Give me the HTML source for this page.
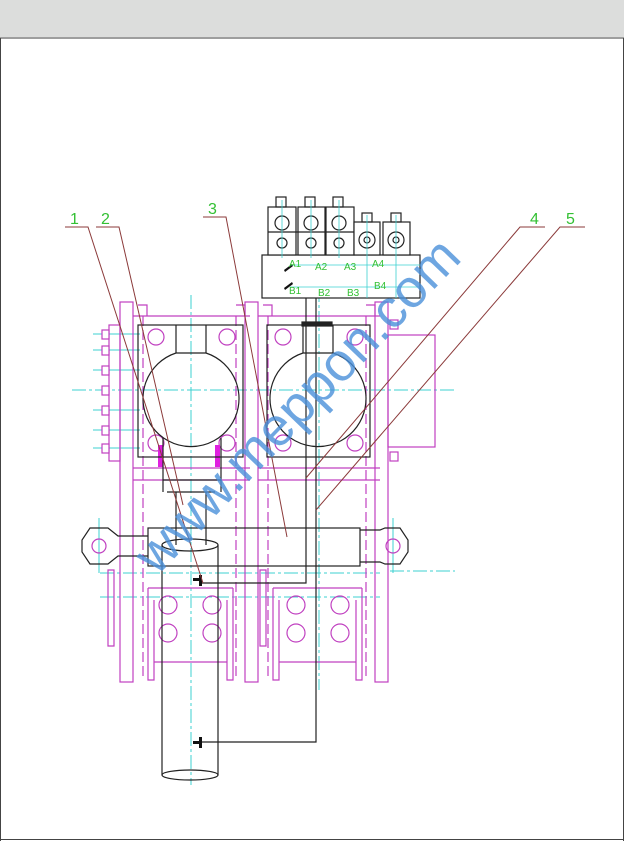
<!DOCTYPE html>
<html><head><meta charset="utf-8"><style>
html,body{margin:0;padding:0;background:#fff;}
svg{display:block;}
</style></head><body>
<svg width="624" height="841" viewBox="0 0 624 841" xmlns="http://www.w3.org/2000/svg" font-family="Liberation Sans, sans-serif">
<rect x="0" y="0" width="624" height="37" fill="#dcdddc"/>
<rect x="0" y="37" width="624" height="2" fill="#9e9e9e"/>
<line x1="0.5" y1="38" x2="0.5" y2="841" stroke="#444" stroke-width="1"/>
<line x1="623.5" y1="38" x2="623.5" y2="841" stroke="#444" stroke-width="1"/>
<line x1="0" y1="839.5" x2="624" y2="839.5" stroke="#444" stroke-width="1"/>

<g stroke="#3cd0d0" stroke-width="1" fill="none" stroke-dasharray="14 3 3 3">
<line x1="72" y1="390" x2="455" y2="390"/>
<line x1="191" y1="295" x2="191" y2="785"/>
<line x1="319" y1="288" x2="319" y2="690"/>
<line x1="100" y1="597" x2="380" y2="597"/>
<line x1="100" y1="573" x2="380" y2="573"/>
<line x1="390" y1="571" x2="455" y2="571"/>
</g>
<g stroke="#3cd0d0" stroke-width="1">
<line x1="93" y1="334" x2="140" y2="334"/><line x1="93" y1="350" x2="140" y2="350"/>
<line x1="93" y1="370" x2="140" y2="370"/><line x1="93" y1="410" x2="140" y2="410"/>
<line x1="93" y1="430" x2="140" y2="430"/><line x1="93" y1="448" x2="140" y2="448"/>
<line x1="99" y1="518" x2="99" y2="573"/><line x1="393" y1="518" x2="393" y2="573"/>
</g>

<g stroke="#c040c0" stroke-width="1.2" fill="none">
<rect x="120" y="302" width="13" height="380"/>
<rect x="109" y="325" width="11" height="136"/>
<g fill="#fff">
<rect x="102" y="330" width="7" height="9"/><rect x="102" y="346" width="7" height="9"/>
<rect x="102" y="366" width="7" height="9"/><rect x="102" y="386" width="7" height="9"/>
<rect x="102" y="406" width="7" height="9"/><rect x="102" y="426" width="7" height="9"/>
<rect x="102" y="444" width="7" height="9"/>
</g>
<path d="M133 316 H250 M138 305 h9 v11 M236 305 h9 v11"/>
<path d="M133 468 H250 M133 480 H250"/>
<rect x="245" y="302" width="13" height="380"/>
<path d="M258 316 H380 M263 305 h9 v11 M366 305 h9 v11"/>
<rect x="375" y="302" width="13" height="380"/>
<path d="M258 468 H380 M258 480 H380"/>
<rect x="388" y="335" width="47" height="112"/>
<rect x="390" y="320" width="8" height="9"/><rect x="390" y="452" width="8" height="9"/>
<path d="M143 316 V680 M236 316 V680 M268 316 V680 M366 316 V680" stroke-dasharray="10 4"/>
<path d="M148 588 H233 M148 588 V680 h6 V600 M233 588 V680 h-6 V600 M154 662 H227" />
<path d="M273 588 H362 M273 588 V680 h6 V600 M362 588 V680 h-6 V600 M279 662 H356" />
<path d="M108 570 h6 v76 h-6 z M260 570 h6 v76 h-6 z"/>
<g>
<circle cx="168" cy="605" r="9"/><circle cx="168" cy="633" r="9"/>
<circle cx="212" cy="605" r="9"/><circle cx="212" cy="633" r="9"/>
<circle cx="296" cy="605" r="9"/><circle cx="296" cy="633" r="9"/>
<circle cx="340" cy="605" r="9"/><circle cx="340" cy="633" r="9"/>
</g>
<circle cx="99" cy="546" r="7"/><circle cx="393" cy="546" r="7"/>
<circle cx="156" cy="337" r="8"/><circle cx="227" cy="337" r="8"/>
<circle cx="156" cy="443" r="8"/><circle cx="227" cy="443" r="8"/>
<circle cx="283" cy="337" r="8"/><circle cx="355" cy="337" r="8"/>
<circle cx="283" cy="443" r="8"/><circle cx="355" cy="443" r="8"/>
</g>
<g fill="#e020e0"><rect x="158" y="445" width="5" height="22"/><rect x="215" y="445" width="5" height="22"/></g>

<g stroke="#222" stroke-width="1.2" fill="none">
<rect x="138" y="325" width="105" height="132"/>
<rect x="267" y="325" width="103" height="132"/>
<path d="M176 325 v28 M206 325 v28"/>
<path d="M176 353 A48 48 0 1 0 206 353 Z"/>
<path d="M303 325 v28 M333 325 v28"/>
<path d="M303 353 A48 48 0 1 0 333 353 Z"/>
<path d="M163 438 V492 M221 438 V492 M163 480 H221 M167 492 H215"/>
<path d="M176 492 V545 M206 492 V545"/>
<rect x="148" y="528" width="212" height="38"/>
<path d="M148 536 H118 L108 528 H90 L82 540 L82 552 L90 564 H108 L118 556 H148"/>
<path d="M360 530 H380 L385 528 H400 L408 540 V552 L400 564 H385 L380 562 H360"/>
<path d="M162 545 V775 M218 545 V775"/>
<ellipse cx="190" cy="545" rx="28" ry="6"/>
<ellipse cx="190" cy="775" rx="28" ry="5"/>
<path d="M306 290 V583 H200"/>
<path d="M316 290 V742 H200"/>
<rect x="302" y="322" width="30" height="4" fill="#222"/>
<rect x="262" y="255" width="158" height="43" fill="#fff"/>
<rect x="268" y="207" width="28" height="48" fill="#fff"/><rect x="298" y="207" width="27" height="48" fill="#fff"/><rect x="326" y="207" width="28" height="48" fill="#fff"/>
<rect x="354" y="222" width="26" height="33" fill="#fff"/><rect x="383" y="222" width="27" height="33" fill="#fff"/>
<path d="M268 232 H354"/>
<rect x="276" y="197" width="10" height="10"/><rect x="305" y="197" width="10" height="10"/><rect x="333" y="197" width="10" height="10"/>
<rect x="362" y="213" width="10" height="9"/><rect x="391" y="213" width="10" height="9"/>
<circle cx="282" cy="223" r="7"/><circle cx="311" cy="223" r="7"/><circle cx="339" cy="223" r="7"/>
<circle cx="282" cy="243" r="5"/><circle cx="311" cy="243" r="5"/><circle cx="339" cy="243" r="5"/>
<circle cx="367" cy="240" r="8"/><circle cx="396" cy="240" r="8"/>
<circle cx="367" cy="240" r="3"/><circle cx="396" cy="240" r="3"/>
</g>
<g fill="#111">
<rect x="193" y="578" width="8" height="3"/><rect x="199" y="575" width="3" height="11"/>
<rect x="193" y="741" width="8" height="3"/><rect x="199" y="737" width="3" height="11"/>
<path d="M284 270 l8 -6 l1 2 l-8 6z M284 288 l8 -6 l1 2 l-8 6z"/>
</g>
<g stroke="#3cd0d0" stroke-width="0.8">
<line x1="290" y1="265" x2="420" y2="265"/><line x1="290" y1="287" x2="420" y2="287"/>
<line x1="282" y1="200" x2="282" y2="258"/><line x1="311" y1="200" x2="311" y2="258"/><line x1="339" y1="200" x2="339" y2="258"/>
<line x1="367" y1="215" x2="367" y2="298"/><line x1="396" y1="215" x2="396" y2="298"/>
</g>
<g fill="#33c033" font-size="10">
<text x="289" y="267">A1</text><text x="315" y="270">A2</text><text x="344" y="270">A3</text><text x="372" y="267">A4</text>
<text x="289" y="294">B1</text><text x="318" y="296">B2</text><text x="347" y="296">B3</text><text x="374" y="289">B4</text>
</g>

<g stroke="#8b3a3a" stroke-width="1" fill="none">
<path d="M65 227 H88 L203 583"/>
<path d="M96 227 H119 L183 505"/>
<path d="M203 217 H226 L287 537"/>
<path d="M545 227 H520 L306 478"/>
<path d="M585 227 H560 L316 510"/>
</g>
<g fill="#33c033" font-size="16">
<text x="70" y="224">1</text><text x="101" y="224">2</text><text x="208" y="214">3</text>
<text x="530" y="224">4</text><text x="566" y="224">5</text>
</g>

<text x="0" y="0" transform="translate(310,418) rotate(-46)" text-anchor="middle" font-size="54" fill="#4a90d9" fill-opacity="0.8">www.meppon.com</text>
</svg>
</body></html>
